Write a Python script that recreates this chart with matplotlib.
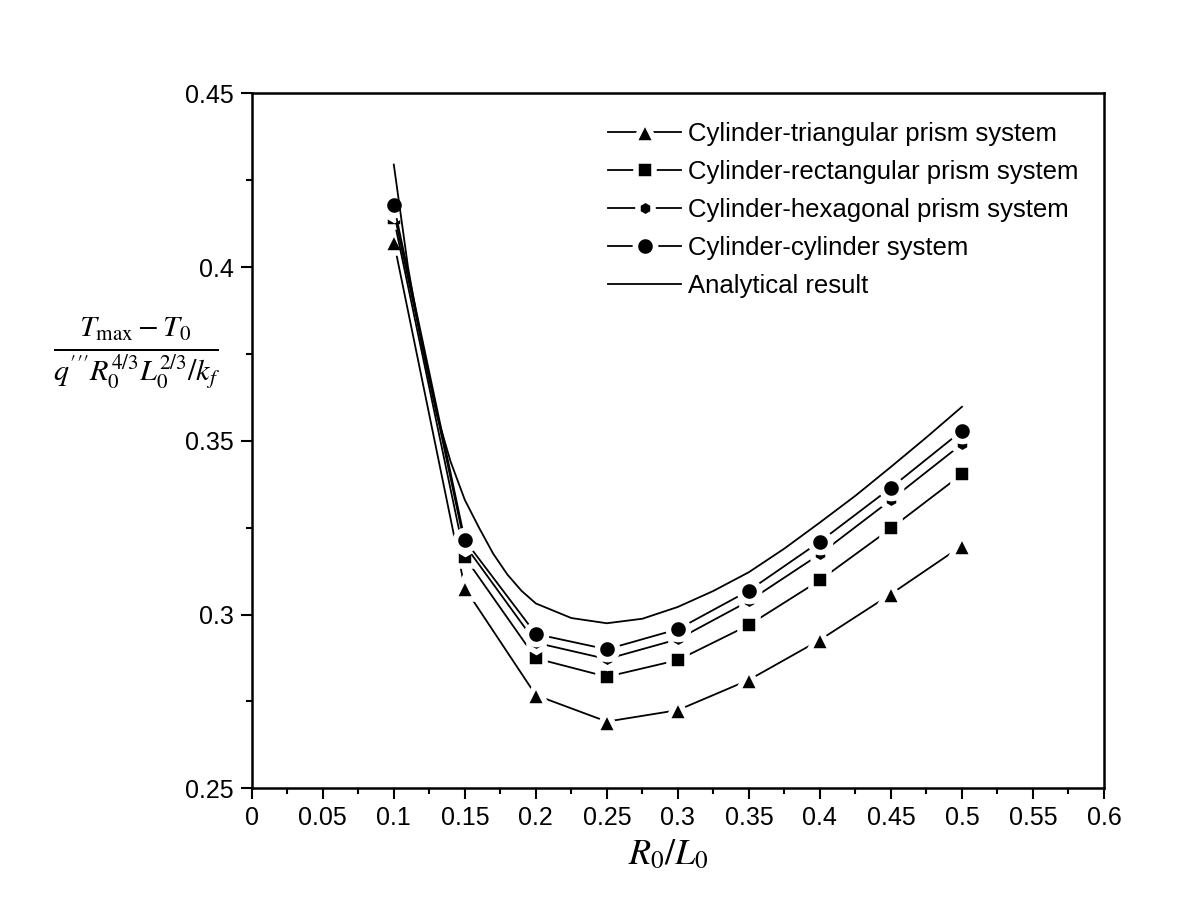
import matplotlib
matplotlib.use("Agg")
import matplotlib.pyplot as plt
from matplotlib.ticker import MultipleLocator, FuncFormatter

plt.rcParams['font.family'] = ['Liberation Sans', 'DejaVu Sans']
plt.rcParams['mathtext.fontset'] = 'stix'

# values
r_ratio = [0.1, 0.15, 0.2, 0.25, 0.3, 0.35, 0.4, 0.45, 0.5]
tri = [0.4073, 0.3076, 0.2768, 0.2692, 0.2725, 0.2812, 0.2927, 0.3059, 0.3198]
rect = [0.4140, 0.3165, 0.2874, 0.2821, 0.2869, 0.2970, 0.3099, 0.3248, 0.3404]
hexa = [0.4160, 0.3200, 0.2919, 0.2872, 0.2929, 0.3039, 0.3174, 0.3330, 0.3491]
cyl = [0.4179, 0.3214, 0.2944, 0.2900, 0.2958, 0.3069, 0.3210, 0.3365, 0.3529]

ana_x = [0.1, 0.11, 0.12, 0.13, 0.14, 0.15, 0.16, 0.17, 0.18, 0.19, 0.2, 0.225,
         0.25, 0.275, 0.3, 0.325, 0.35, 0.375, 0.4, 0.425, 0.45, 0.475, 0.5]
ana_y = [0.4295, 0.4000, 0.3770, 0.3580, 0.3440, 0.3330, 0.3250, 0.3175, 0.3115,
         0.3068, 0.3032, 0.2990, 0.2975, 0.2988, 0.3022, 0.3068, 0.3122, 0.3190,
         0.3265, 0.3342, 0.3425, 0.3510, 0.3598]

labels = ["Cylinder-triangular prism system",
          "Cylinder-rectangular prism system",
          "Cylinder-hexagonal prism system",
          "Cylinder-cylinder system",
          "Analytical result"]

fig = plt.figure(figsize=(12, 9.16), dpi=100)
ax = fig.add_axes([0.2098, 0.1394, 0.7102, 0.7587])

gap = 4
ax.plot(r_ratio, tri, '-^', color='black', lw=1.3, ms=12.5 + gap, mec='white', mew=gap, mfc='black', label=labels[0])
ax.plot(r_ratio, rect, '-s', color='black', lw=1.3, ms=8.5 + gap, mec='white', mew=gap, mfc='black', label=labels[1])
ax.plot(r_ratio, hexa, '-h', color='black', lw=1.3, ms=8.5 + gap, mec='white', mew=gap, mfc='black', label=labels[2])
ax.plot(r_ratio, cyl, '-o', color='black', lw=1.3, ms=10.5 + gap, mec='white', mew=gap, mfc='black', label=labels[3])
ax.plot(ana_x, ana_y, '-', color='black', lw=1.3, label=labels[4])

ax.set_xlim(0, 0.6)
ax.set_ylim(0.25, 0.45)
ax.xaxis.set_major_locator(MultipleLocator(0.05))
ax.xaxis.set_minor_locator(MultipleLocator(0.025))
ax.yaxis.set_major_locator(MultipleLocator(0.05))
ax.yaxis.set_minor_locator(MultipleLocator(0.025))
fmt = FuncFormatter(lambda v, p: ('%.2f' % v).rstrip('0').rstrip('.') if abs(v) > 1e-9 else '0')
ax.xaxis.set_major_formatter(fmt)
ax.yaxis.set_major_formatter(fmt)

for s in ax.spines.values():
    s.set_linewidth(1.8)
ax.tick_params(which='major', direction='out', length=8, width=1.5, labelsize=18, pad=5,
               top=False, right=False)
ax.tick_params(which='minor', direction='out', length=4.5, width=1.5, top=False, right=False)

leg = ax.legend(loc='upper left', bbox_to_anchor=(608 / 1200, 1 - 122 / 916),
                bbox_transform=fig.transFigure, frameon=False, fontsize=18.5,
                handlelength=2.85, handletextpad=0.27, labelspacing=0.54,
                borderpad=0, borderaxespad=0)

fig.text(137 / 1200, 1 - 353 / 916,
         r'$\frac{T_{\max}-T_0}{q^{\prime\prime\prime}R_0^{4/3}L_0^{2/3}/k_f}$',
         fontsize=31, ha='center', va='center')
fig.text(668 / 1200, 1 - 855 / 916, r'$R_0/L_0$', fontsize=26, ha='center', va='center')

fig.savefig("out.png", dpi=100)
